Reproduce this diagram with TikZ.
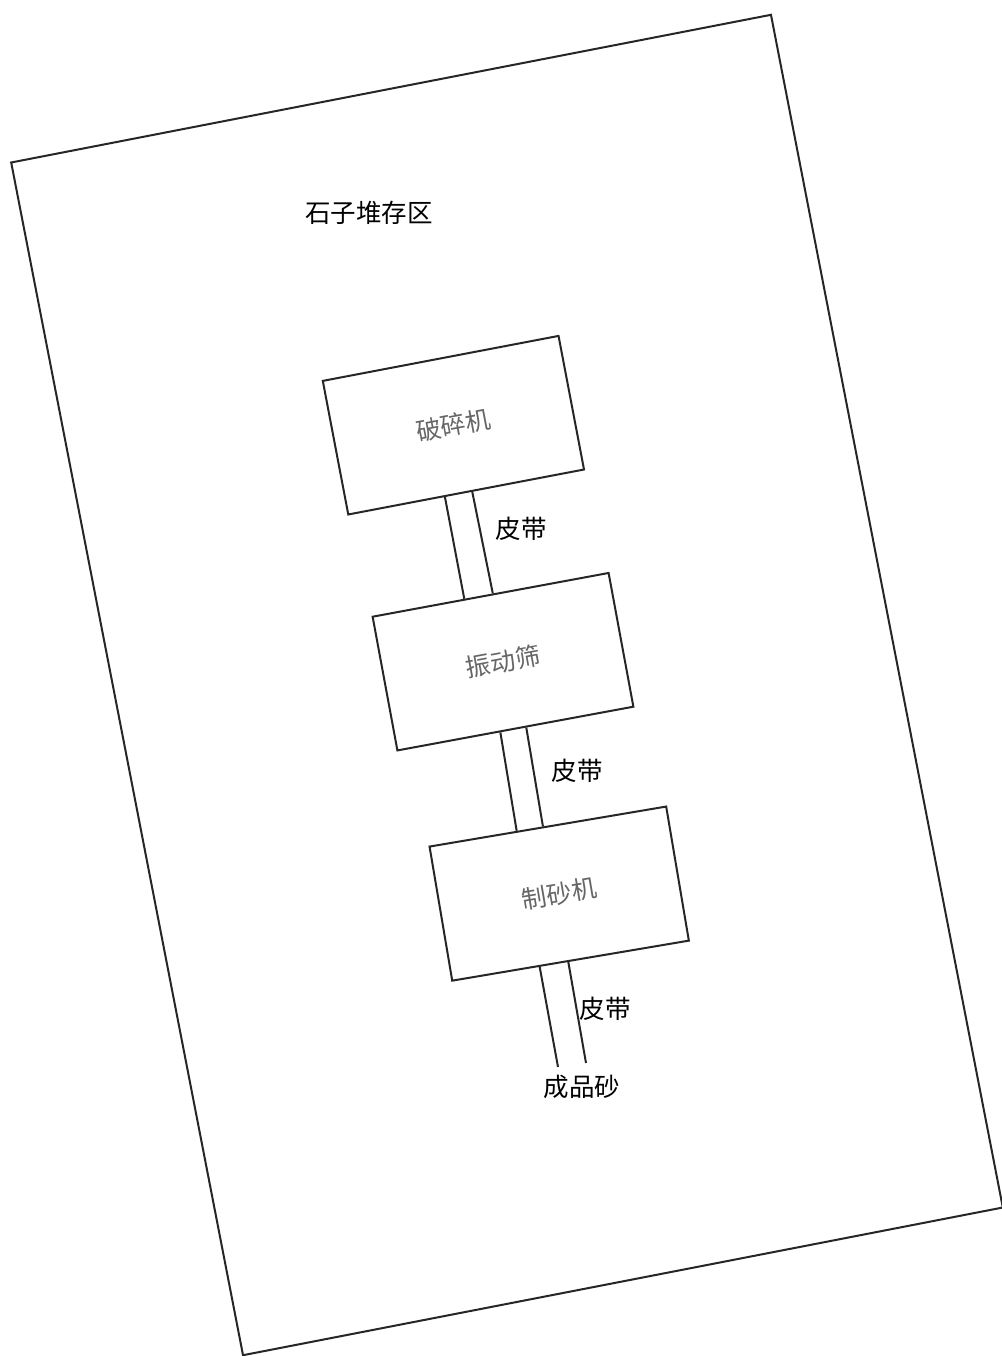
\documentclass[tikz,border=0pt]{standalone}
\usepackage{fontspec}
\newfontfamily\cjk{Noto Sans CJK SC}
\usetikzlibrary{calc}
\begin{document}
\begin{tikzpicture}[x=1pt,y=-1pt,
  frame/.style={draw=black!85, line width=2pt},
  machine/.style={frame, minimum width=240pt, minimum height=136pt, inner sep=0pt,
    font=\cjk\fontsize{25}{27}\selectfont, text=black!60},
  lbl/.style={font=\cjk\fontsize{25.5}{27}\selectfont, inner sep=0pt},
  belt/.style={draw=black!85, line width=2pt}]
\useasboundingbox (0,0) rectangle (1001,1356);
% storage yard
\node[frame, rotate=11, minimum width=774pt, minimum height=1215pt, inner sep=0pt] (yard) at (507,685) {};
\node[lbl] (yardlbl) at (369,213) {石子堆存区};
% machines
\node[machine, rotate=10.8] (b1) at (453.4,425.2) {破碎机};
\node[machine, rotate=10.5] (b2) at (503,661.7) {振动筛};
\node[machine, rotate=9.6] (b3) at (559.2,893.6) {制砂机};
% belt 1
\coordinate (b1l) at ($(b1.south west)!0.41!(b1.south east)$);
\coordinate (b1r) at ($(b1.south west)!0.525!(b1.south east)$);
\coordinate (b2tl) at ($(b2.north west)!0.39!(b2.north east)$);
\coordinate (b2tr) at ($(b2.north west)!0.51!(b2.north east)$);
\draw[belt] (b1l) -- (b2tl);
\draw[belt] (b1r) -- (b2tr);
\node[lbl] (belt1) at (521,529) {皮带};
% belt 2
\coordinate (b2l) at ($(b2.south west)!0.436!(b2.south east)$);
\coordinate (b2r) at ($(b2.south west)!0.545!(b2.south east)$);
\coordinate (b3tl) at ($(b3.north west)!0.37!(b3.north east)$);
\coordinate (b3tr) at ($(b3.north west)!0.48!(b3.north east)$);
\draw[belt] (b2l) -- (b3tl);
\draw[belt] (b2r) -- (b3tr);
\node[lbl] (belt2) at (577,771) {皮带};
% belt 3
\coordinate (b3l) at ($(b3.south west)!0.37!(b3.south east)$);
\coordinate (b3r) at ($(b3.south west)!0.49!(b3.south east)$);
\coordinate (endl) at (558,1067);
\coordinate (endr) at (586,1063);
\draw[belt] (b3l) -- (endl);
\draw[belt] (b3r) -- (endr);
\node[lbl] (belt3) at (605,1009) {皮带};
\node[lbl] (product) at (582,1087) {成品砂};
\end{tikzpicture}
\end{document}
